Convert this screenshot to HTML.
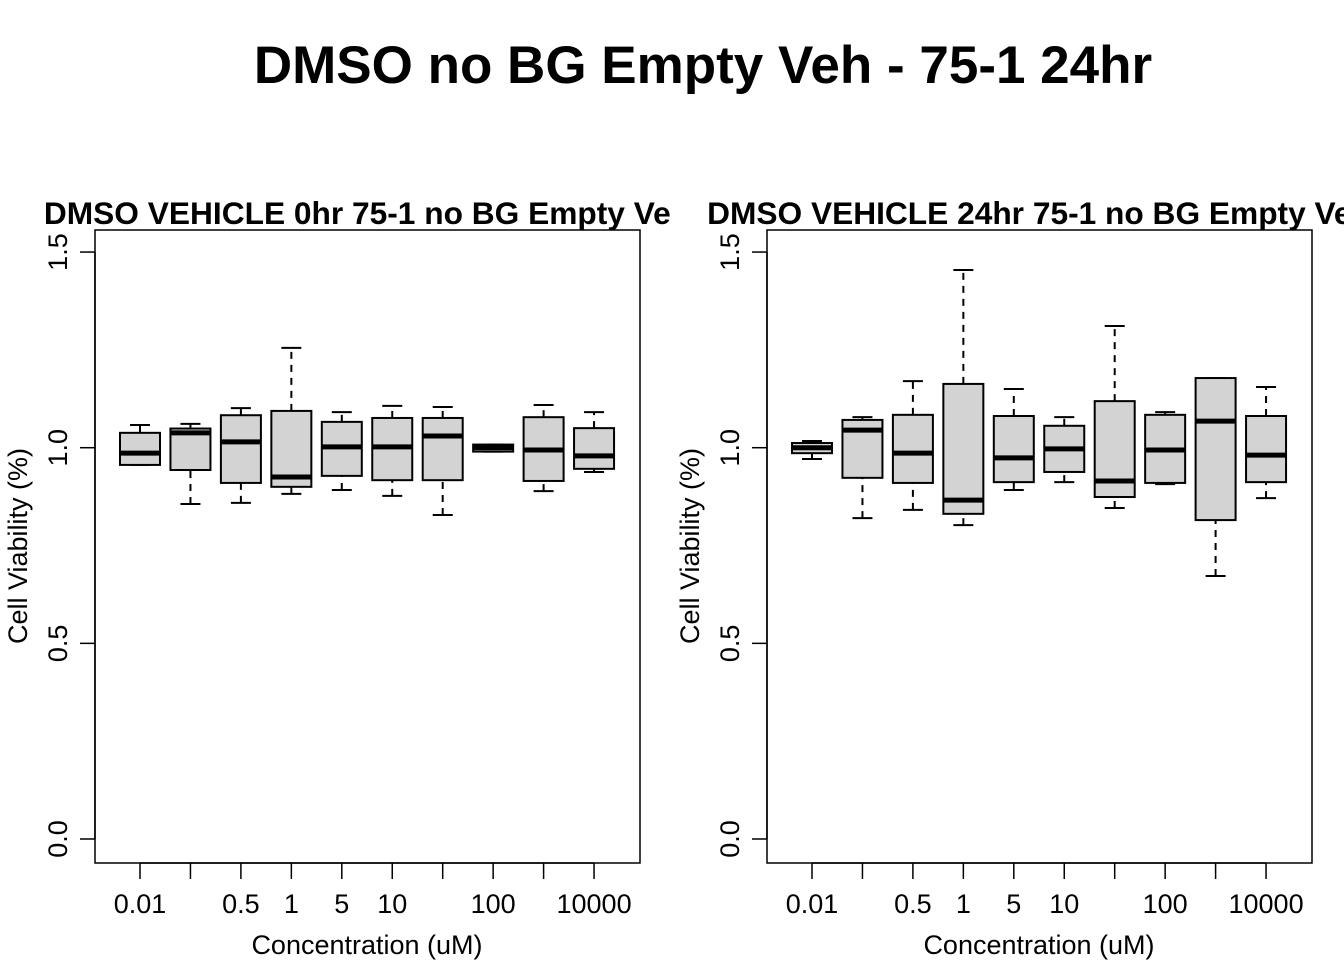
<!DOCTYPE html>
<html><head><meta charset="utf-8"><style>
body{margin:0;background:#fff;}
svg text{font-family:"Liberation Sans",Arial,sans-serif;}
</style></head><body>
<svg id="chart" width="1344" height="960" xmlns="http://www.w3.org/2000/svg">
<defs>
<clipPath id="clipL"><rect x="0" y="0" width="672" height="960"/></clipPath>
<clipPath id="clipR"><rect x="672" y="0" width="672" height="960"/></clipPath>
</defs>
<text x="703" y="83" font-size="53" font-weight="bold" text-anchor="middle">DMSO no BG Empty Veh - 75-1 24hr</text>
<g id="panels"></g>
</svg>
<script>
const categories = ["0.01","0.1","0.5","1","5","10","50","100","1000","10000"];
const tickLabels = ["0.01","","0.5","1","5","10","","100","","10000"];
const yTicks = [0, 0.5, 1.0, 1.5];
const yTickLabels = ["0.0","0.5","1.0","1.5"];
// [whiskerLow, q1, median, q3, whiskerHigh]
const panel0hrStats = [
 [0.956,0.956,0.986,1.038,1.058],
 [0.856,0.943,1.038,1.049,1.061],
 [0.859,0.910,1.015,1.083,1.101],
 [0.882,0.900,0.925,1.094,1.255],
 [0.892,0.928,1.002,1.066,1.091],
 [0.877,0.917,1.002,1.076,1.107],
 [0.828,0.917,1.030,1.076,1.104],
 [0.990,0.990,1.000,1.008,1.008],
 [0.889,0.915,0.994,1.078,1.109],
 [0.938,0.946,0.979,1.050,1.091]
];
const panel24hrStats = [
 [0.971,0.986,1.000,1.012,1.017],
 [0.820,0.923,1.045,1.071,1.078],
 [0.841,0.910,0.986,1.084,1.170],
 [0.802,0.831,0.866,1.163,1.454],
 [0.892,0.912,0.974,1.081,1.150],
 [0.912,0.938,0.997,1.056,1.078],
 [0.846,0.874,0.915,1.119,1.311],
 [0.907,0.910,0.994,1.084,1.091],
 [0.672,0.815,1.068,1.178,1.178],
 [0.871,0.912,0.981,1.081,1.155]
];
const panelTitles = ["DMSO VEHICLE 0hr 75-1 no BG Empty Veh","DMSO VEHICLE 24hr 75-1 no BG Empty Veh"];

const NS="http://www.w3.org/2000/svg";
const root=document.getElementById('panels');
function mk(tag,attrs,parent){const e=document.createElementNS(NS,tag);for(const k in attrs)e.setAttribute(k,attrs[k]);parent.appendChild(e);return e;}
function y(v){return 839 - v*391.3;}

function drawPanel(off, stats, title, clip, key){
  const g=mk('g',{'clip-path':'url(#'+clip+')'},root);
  
  
  const L=95+off, R=640+off;
  const x=i=>140+off+i*50.45;
  const t=mk('text',{x:367+off,y:224,'font-size':31.7,'font-weight':'bold','text-anchor':'middle'},g);
  t.textContent=title;
  
  
  const fr=mk('rect',{x:L,y:230,width:R-L,height:633,fill:'none',stroke:'#000','stroke-width':1.5},g);
  
  
  yTicks.forEach((v,i)=>{
    mk('line',{x1:L,x2:L-15,y1:y(v),y2:y(v),stroke:'#000','stroke-width':1.5},g);
    const tl=mk('text',{x:0,y:0,'font-size':27,'text-anchor':'middle',transform:`translate(${67+off},${y(v)}) rotate(-90)`},g);
    tl.textContent=yTickLabels[i];
    
    
  });
  mk('line',{x1:L,x2:L,y1:y(0),y2:y(1.5),stroke:'#000','stroke-width':1.5},g);
  categories.forEach((c,i)=>{
    mk('line',{x1:x(i),x2:x(i),y1:863,y2:879,stroke:'#000','stroke-width':1.5},g);
    if(tickLabels[i]){
      const tl=mk('text',{x:x(i),y:913,'font-size':27,'text-anchor':'middle'},g);
      tl.textContent=tickLabels[i];
      
      
    }
  });
  mk('line',{x1:x(0),x2:x(9),y1:863,y2:863,stroke:'#000','stroke-width':1.5},g);
  const xl=mk('text',{x:367+off,y:954,'font-size':27,'text-anchor':'middle'},g);
  xl.textContent="Concentration (uM)";
  
  
  const yl=mk('text',{x:0,y:0,'font-size':27,'text-anchor':'middle',transform:`translate(${27+off},546) rotate(-90)`},g);
  yl.textContent="Cell Viability (%)";
  
  
  stats.forEach((s,i)=>{
    const bg=mk('g',{},g);
    
    
    const cx=x(i);
    mk('line',{x1:cx,x2:cx,y1:y(s[0]),y2:y(s[1]),stroke:'#000','stroke-width':2,'stroke-dasharray':'7,6'},bg);
    mk('line',{x1:cx,x2:cx,y1:y(s[3]),y2:y(s[4]),stroke:'#000','stroke-width':2,'stroke-dasharray':'7,6'},bg);
    mk('line',{x1:cx-10,x2:cx+10,y1:y(s[0]),y2:y(s[0]),stroke:'#000','stroke-width':2},bg);
    mk('line',{x1:cx-10,x2:cx+10,y1:y(s[4]),y2:y(s[4]),stroke:'#000','stroke-width':2},bg);
    mk('rect',{x:cx-20,y:y(s[3]),width:40,height:Math.max(1,y(s[1])-y(s[3])),fill:'#d3d3d3',stroke:'#000','stroke-width':2},bg);
    mk('line',{x1:cx-20,x2:cx+20,y1:y(s[2]),y2:y(s[2]),stroke:'#000','stroke-width':5},bg);
  });
}
drawPanel(0,panel0hrStats,panelTitles[0],'clipL','left');
drawPanel(672,panel24hrStats,panelTitles[1],'clipR','right');
</script>
</body></html>
